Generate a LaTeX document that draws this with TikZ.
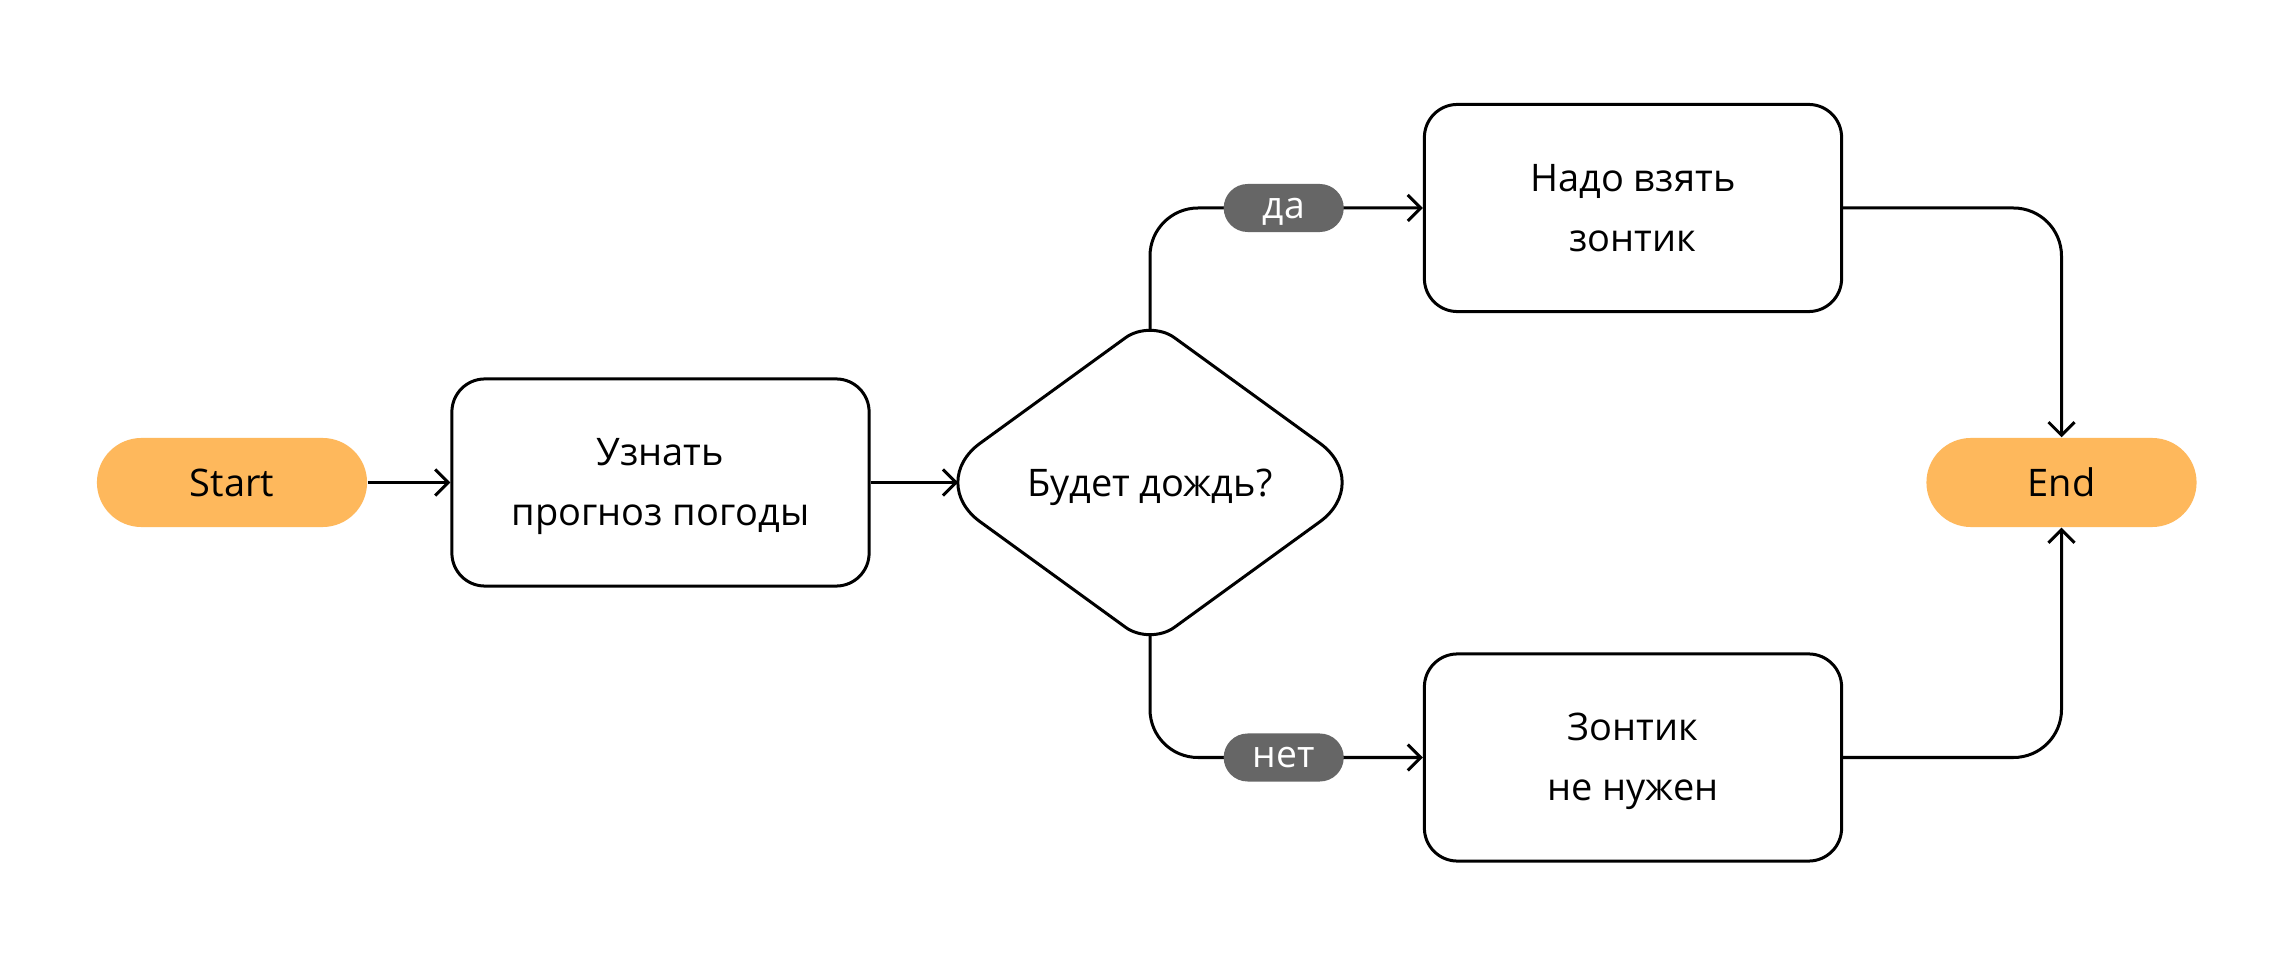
\documentclass[tikz,border=0pt]{standalone}
\usepackage{fontspec}
\setmainfont{Open Sans}
\usetikzlibrary{arrows.meta,shapes.geometric,calc}
\definecolor{pillorange}{HTML}{FEB85C}
\definecolor{lblgray}{HTML}{666666}
\begin{document}
\begin{tikzpicture}[x=0.01cm,y=-0.01cm,
  conn/.style={line width=0.03cm, draw=black},
  arr/.style={conn, -{Straight Barb[length=0.13cm,width=0.26cm]}},
  txt/.style={font=\fontsize{10.8pt}{17pt}\selectfont},
  box/.style={txt, draw, line width=0.03cm, rounded corners=0.33cm, minimum width=4.17cm, minimum height=2.07cm, align=center, inner sep=0pt, text height=0.86cm, text depth=0pt},
  term/.style={txt, fill=pillorange, rounded corners=0.445cm, minimum width=2.7cm, minimum height=0.89cm, inner sep=0pt},
  lbl/.style={font=\fontsize{10.6pt}{12pt}\selectfont, fill=lblgray, text=white, rounded corners=0.24cm, minimum width=1.2cm, minimum height=0.48cm, inner sep=0pt, text depth=0pt},
  dec/.style={txt, inner sep=0pt, text depth=0pt}]
\fill[white] (0,0) rectangle (2293,955);
\useasboundingbox (0,0) rectangle (2293,955);

\node[term] (start) at (232,482.5) {Start};
\node[box] (box1) at (660.5,482.5) {Узнать\\прогноз погоды};
\node[dec] (d) at (1150,482.5) {Будет дождь?};
% rounded diamond outline
\draw[line width=0.03cm]
  (1125.7,337.6) .. controls (1139.1,327.9) and (1160.9,327.9) .. (1174.3,337.6)
  -- (1319.8,443.2) .. controls (1349.6,464.8) and (1349.6,500.2) .. (1319.8,521.8)
  -- (1174.3,627.4) .. controls (1160.9,637.1) and (1139.1,637.1) .. (1125.7,627.4)
  -- (980.2,521.8) .. controls (950.4,500.2) and (950.4,464.8) .. (980.2,443.2)
  -- cycle;
\coordinate (dN) at (1150,330.3);
\coordinate (dS) at (1150,634.7);
\coordinate (dW) at (958,482.5);
\node[box] (top) at (1633,208) {Надо взять\\зонтик};
\node[box] (bot) at (1633,757.5) {Зонтик\\не нужен};
\node[term] (end) at (2061.5,482.5) {End};

\draw[arr] (start.east) -- (box1.west);
\draw[arr] (box1.east) -- (dW);
\draw[arr, rounded corners=0.48cm] (dN) |- node[lbl,pos=0.745] (da) {да} (top.west);
\draw[arr, rounded corners=0.48cm] (dS) |- node[lbl,pos=0.745] (net) {нет} (bot.west);
\draw[arr, rounded corners=0.48cm] (top.east) -| (end.north);
\draw[arr, rounded corners=0.48cm] (bot.east) -| (end.south);
\end{tikzpicture}
\end{document}
